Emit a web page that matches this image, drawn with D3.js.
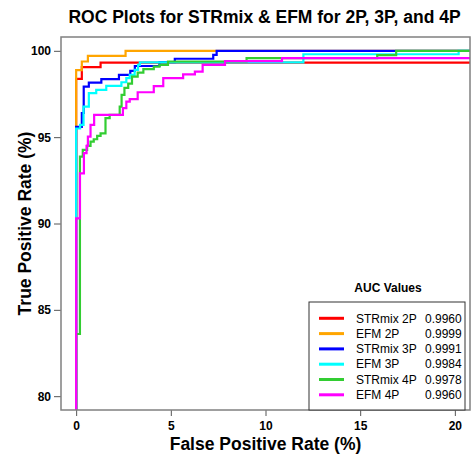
<!DOCTYPE html>
<html>
<head>
<meta charset="utf-8">
<script src="https://cdn.jsdelivr.net/npm/d3@7"></script>
<style>
  body { margin: 0; background: #fff; }
  text { font-family: "Liberation Sans", Arial, sans-serif; }
</style>
</head>
<body>
<div id="hook-roc"></div>
<script>
'use strict';

// series names, colours, AUC labels
var seriesNames = ['STRmix 2P', 'EFM 2P', 'STRmix 3P', 'EFM 3P', 'STRmix 4P', 'EFM 4P'];
var seriesColors = ['#ff0000', '#ffa500', '#0000ff', '#00ffff', '#32cd32', '#ff00ff'];
var aucValues = ['0.9960', '0.9999', '0.9991', '0.9984', '0.9978', '0.9960'];

// ROC corners [FPR %, TPR %] : at FPR the TPR jumps up to the value
var str2P = [[0, 0], [0, 98.38], [0.30, 99.05], [1.29, 99.32], [100, 100]];
var efm2P = [[0, 0], [0, 98.88], [0.30, 99.38], [0.62, 99.71], [2.61, 100], [100, 100]];
var str3P = [[0, 0], [0, 95.6], [0.30, 96.4], [0.40, 97.93], [0.67, 98.16], [1.33, 98.36],
  [2.26, 98.61], [2.86, 98.84], [3.1, 99.12], [4.4, 99.34], [5.21, 99.54], [7.24, 99.77],
  [7.42, 100], [100, 100]];
var efm3P = [[0, 0], [0, 95.5], [0.21, 95.71], [0.39, 96.77], [0.67, 97.55], [1.06, 97.74],
  [1.59, 97.97], [2.39, 98.18], [2.65, 98.42], [2.83, 98.61], [3.09, 98.9], [3.27, 99.19],
  [3.36, 99.33], [12.0, 99.8], [20.2, 100], [100, 100]];
var str4P = [[0, 0], [0, 83.6], [0.2, 93.87], [0.35, 94.26], [0.58, 94.5], [0.76, 94.74],
  [0.93, 94.88], [1.11, 95.07], [1.29, 95.22], [1.55, 96.1], [1.77, 96.29], [2.3, 96.77],
  [2.4, 97.45], [2.55, 97.85], [2.75, 98.1], [2.95, 98.5], [3.25, 98.74], [3.55, 98.94],
  [4.1, 99.09], [4.4, 99.19], [4.85, 99.38], [9.0, 99.58], [15.9, 99.75], [16.9, 100], [100, 100]];
var efm4P = [[0, 0], [0, 90.3], [0.2, 92.9], [0.41, 94.07], [0.55, 94.5], [0.62, 95.03],
  [0.76, 95.71], [0.95, 96.29], [2.47, 96.68], [2.65, 97.06], [2.83, 97.2], [3.25, 97.6],
  [4.1, 97.95], [4.6, 98.42], [5.65, 98.63], [6.27, 98.8], [6.68, 99.19], [7.86, 99.4],
  [10.87, 99.58], [100, 100]];

var xTicks = [0, 5, 10, 15, 20];
var yTicks = [80, 85, 90, 95, 100];

var options = {
  width: 474,
  height: 458,
  left: 61,
  right: 470,
  top: 37,
  bottom: 410
};

function update(options) {
  var curves = [str2P, efm2P, str3P, efm3P, str4P, efm4P];

  var svg = d3.select('#hook-roc')
    .append('svg')
    .attr('width', options.width)
    .attr('height', options.height);

  // R style 4% padding around 0-20 / 80-100
  var x = d3.scaleLinear().domain([-0.8, 20.8]).range([options.left, options.right]);
  var y = d3.scaleLinear().domain([79.2, 100.8]).range([options.bottom, options.top]);

  svg.append('clipPath')
    .attr('id', 'plot-clip')
    .append('rect')
    .attr('x', options.left)
    .attr('y', options.top)
    .attr('width', options.right - options.left)
    .attr('height', options.bottom - options.top);

  var line = d3.line()
    .x(function(d) { return x(d[0]); })
    .y(function(d) { return y(d[1]); })
    .curve(d3.curveStepAfter);

  svg.append('g')
    .attr('clip-path', 'url(#plot-clip)')
    .selectAll('path')
    .data(curves)
    .enter()
    .append('path')
    .attr('d', line)
    .style('fill', 'none')
    .style('stroke', function(d, i) { return seriesColors[i]; })
    .style('stroke-width', 2.2);

  // axes
  var xAxis = svg.append('g')
    .attr('transform', 'translate(0,' + options.bottom + ')')
    .call(d3.axisBottom(x).tickValues(xTicks).tickSize(6).tickPadding(5));
  var yAxis = svg.append('g')
    .attr('transform', 'translate(' + options.left + ',0)')
    .call(d3.axisLeft(y).tickValues(yTicks).tickSize(7).tickPadding(3));

  [xAxis, yAxis].forEach(function(ax) {
    ax.select('.domain').remove();
    ax.selectAll('line').style('stroke', '#555');
    ax.selectAll('text')
      .style('font-size', '12px')
      .style('font-weight', 'bold')
      .style('fill', '#000');
  });

  // frame
  svg.append('rect')
    .attr('x', options.left)
    .attr('y', options.top)
    .attr('width', options.right - options.left)
    .attr('height', options.bottom - options.top)
    .style('fill', 'none')
    .style('stroke', '#808080')
    .style('stroke-width', 1.5);

  // titles
  var cx = (options.left + options.right) / 2;
  svg.append('text')
    .attr('x', cx - 1)
    .attr('y', 23)
    .attr('text-anchor', 'middle')
    .style('font-size', '17.5px')
    .style('font-weight', 'bold')
    .text('ROC Plots for STRmix & EFM for 2P, 3P, and 4P');

  svg.append('text')
    .attr('x', cx)
    .attr('y', 450)
    .attr('text-anchor', 'middle')
    .style('font-size', '17.5px')
    .style('font-weight', 'bold')
    .text('False Positive Rate (%)');

  svg.append('text')
    .attr('transform', 'translate(31,' + ((options.top + options.bottom) / 2) + ') rotate(-90)')
    .attr('text-anchor', 'middle')
    .style('font-size', '17.5px')
    .style('font-weight', 'bold')
    .text('True Positive Rate (%)');

  // legend
  var lg = { x: 309, y: 302, w: 156, h: 108, row: 15.3 };
  svg.append('text')
    .attr('x', 388)
    .attr('y', 292)
    .attr('text-anchor', 'middle')
    .style('font-size', '12px')
    .style('font-weight', 'bold')
    .text('AUC Values');

  svg.append('rect')
    .attr('x', lg.x)
    .attr('y', lg.y)
    .attr('width', lg.w)
    .attr('height', lg.h)
    .style('fill', '#fff')
    .style('stroke', '#333')
    .style('stroke-width', 1);

  var rows = svg.append('g')
    .selectAll('g')
    .data(seriesNames)
    .enter()
    .append('g')
    .attr('transform', function(d, i) {
      return 'translate(0,' + (318.3 + i * lg.row) + ')';
    });

  rows.append('line')
    .attr('x1', 319)
    .attr('x2', 344)
    .style('stroke', function(d, i) { return seriesColors[i]; })
    .style('stroke-width', 3);

  rows.append('text')
    .attr('x', 356)
    .attr('dy', '0.35em')
    .style('font-size', '12px')
    .text(function(d) { return d; });

  rows.append('text')
    .attr('x', 425)
    .attr('dy', '0.35em')
    .style('font-size', '12px')
    .text(function(d, i) { return aucValues[i]; });
}

update(options);
</script>
</body>
</html>
